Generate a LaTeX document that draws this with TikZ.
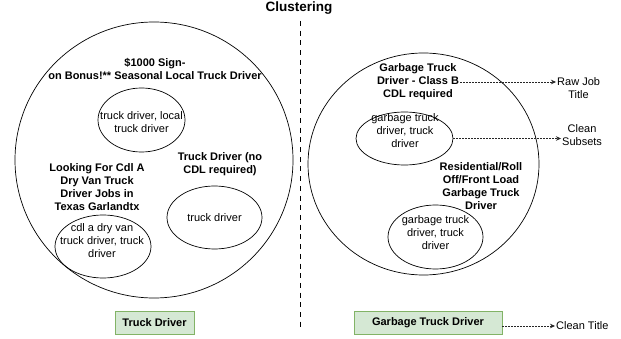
\documentclass[tikz,border=0pt]{standalone}
\usepackage{fontspec}
\setmainfont{Liberation Sans}
\usetikzlibrary{shapes.geometric,arrows.meta}

\definecolor{titlefill}{HTML}{D5E8D4}
\definecolor{titleline}{HTML}{82B366}

\tikzset{
  txt/.style={align=center,inner sep=1pt,font=\fontsize{11}{13}\selectfont},
  btxt/.style={txt,font=\fontsize{11}{13}\selectfont\bfseries},
  oval/.style={ellipse,draw,line width=0.7pt,inner sep=0pt},
  titlebox/.style={draw=titleline,fill=titlefill,line width=0.8pt,minimum height=23pt,
    font=\fontsize{11}{13}\selectfont\bfseries},
  link/.style={draw=black!85,line width=0.6pt,dash pattern=on 1.5pt off 1.5pt,
    -{Stealth[length=5pt,width=4.5pt]}}
}

\begin{document}
\begin{tikzpicture}[x=1pt,y=-1pt]
  \useasboundingbox (0,0) rectangle (621,339);
  \node[font=\fontsize{13.5}{16}\selectfont\bfseries] (head) at (299,8) {Clustering};

  % divider
  \coordinate (divtop) at (300.7,21);
  \coordinate (divbot) at (300.7,328);
  \draw[line width=1.5pt,dash pattern=on 5pt off 4.7pt] (divtop) -- (divbot);

  % left cluster
  \node[oval,minimum width=278pt,minimum height=276pt] (lcluster) at (154,160) {};
  \node[btxt] (lraw1) at (155,68.5) {\$1000 Sign-\\on Bonus!** Seasonal Local Truck Driver};
  \node[oval,minimum width=87pt,minimum height=64pt] (lsub1) at (141.5,120) {};
  \node[txt] (lsub1txt) at (141.5,122) {truck driver, local\\truck driver};
  \node[btxt] (lraw2) at (97,187) {Looking For Cdl A\\Dry Van Truck\\Driver Jobs in\\Texas Garlandtx};
  \node[btxt] (lraw3) at (220,164.5) {Truck Driver (no\\CDL required)};
  \node[oval,minimum width=95pt,minimum height=63pt] (lsub3) at (214.5,217.5) {};
  \node[txt] (lsub3txt) at (lsub3) {truck driver};
  \node[oval,minimum width=96pt,minimum height=63pt] (lsub2) at (103,246.5) {};
  \node[txt] (lsub2txt) at (102,241) {cdl a dry van\\truck driver, truck\\driver};
  \node[titlebox,minimum width=79pt] (ltitle) at (154.5,322.5) {Truck Driver};

  % right cluster
  \node[oval,minimum width=231pt,minimum height=222pt] (rcluster) at (423.5,164) {};
  \node[btxt] (rraw1) at (418,82) {Garbage Truck\\Driver - Class B\\CDL required};
  \node[oval,minimum width=97pt,minimum height=53pt] (rsub1) at (404.5,138.5) {};
  \node[txt] (rsub1txt) at (405,130.5) {garbage truck\\driver, truck\\driver};
  \node[btxt] (rraw2) at (481,186.5) {Residential/Roll\\Off/Front Load\\Garbage Truck\\Driver};
  \node[oval,minimum width=95pt,minimum height=64pt] (rsub2) at (435.5,237) {};
  \node[txt] (rsub2txt) at (435.5,233) {garbage truck\\driver, truck\\driver};
  \node[titlebox,minimum width=148pt] (rtitle) at (428,322.5) {Garbage Truck Driver};

  % legend
  \node[txt,anchor=west] (rawlbl) at (556,88) {Raw Job\\Title};
  \node[txt,anchor=west] (sublbl) at (561,135.5) {Clean\\Subsets};
  \node[txt,anchor=west] (cleanlbl) at (555,326) {Clean Title};
  \draw[link] (rraw1.east) -- (rraw1.east -| rawlbl.west);
  \draw[link] (rsub1.east) -- (rsub1.east -| sublbl.west);
  \draw[link] (rtitle.east |- cleanlbl) -- (cleanlbl.west);
\end{tikzpicture}
\end{document}
